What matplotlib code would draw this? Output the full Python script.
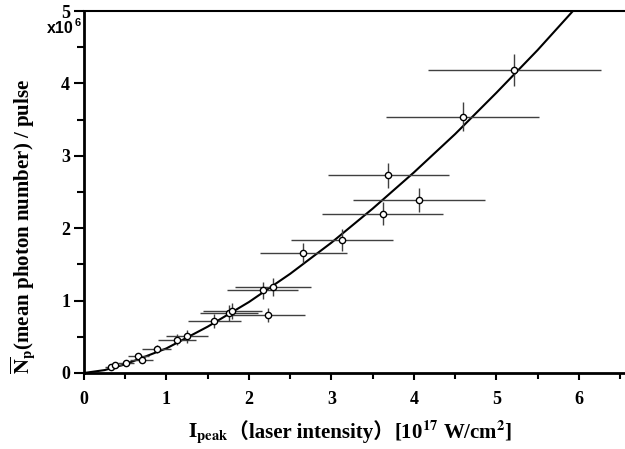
import matplotlib
matplotlib.use('Agg')
import matplotlib.pyplot as plt
from matplotlib.ticker import MultipleLocator

# measured points (y in units of 1e6 photons / pulse)
x_int = [0.33, 0.38, 0.51, 0.66, 0.70, 0.88, 1.13, 1.25, 1.58, 1.76, 1.80,
         2.17, 2.29, 2.23, 2.66, 3.13, 3.62, 3.69, 4.06, 4.59, 5.22]
y_np = [0.08, 0.11, 0.14, 0.23, 0.18, 0.33, 0.46, 0.51, 0.72, 0.83, 0.86,
        1.14, 1.19, 0.80, 1.66, 1.84, 2.20, 2.73, 2.39, 3.54, 4.19]
x_err = [0.07, 0.08, 0.10, 0.13, 0.14, 0.18, 0.23, 0.25, 0.32, 0.35, 0.36,
         0.43, 0.46, 0.45, 0.53, 0.62, 0.73, 0.73, 0.80, 0.93, 1.05]
y_err = [0.02, 0.02, 0.03, 0.05, 0.04, 0.06, 0.08, 0.09, 0.10, 0.11, 0.11,
         0.12, 0.12, 0.10, 0.14, 0.15, 0.16, 0.17, 0.17, 0.20, 0.22]

# fitted curve
fit_x = [0, 0.25, 0.5, 1.0, 1.5, 2.0, 2.5, 3.0, 3.5, 4.0, 4.5, 5.0, 5.5, 6.0]
fit_y = [0, 0.04, 0.12, 0.34, 0.64, 0.98, 1.37, 1.80, 2.27, 2.77, 3.30, 3.87, 4.46, 5.09]

plt.rcParams['font.family'] = ['Liberation Serif', 'Noto Sans CJK JP']
plt.rcParams['font.weight'] = 'bold'
plt.rcParams['mathtext.fontset'] = 'stix'

fig = plt.figure(figsize=(6.25, 4.49), dpi=100)
ax = fig.add_axes([0.1344, 0.1693, 0.8656, 0.8062])

ax.plot(fit_x, fit_y, color='black', lw=1.5, zorder=3)
ax.errorbar(x_int, y_np, xerr=x_err, yerr=y_err, fmt='o', ms=4.5,
            mfc='white', mec='black', mew=1, ecolor='0.25', elinewidth=1,
            capsize=0, zorder=4)

ax.set_xlim(0, 6.56)
ax.set_ylim(0, 5)
ax.xaxis.set_major_locator(MultipleLocator(1))
ax.xaxis.set_minor_locator(MultipleLocator(0.5))
ax.yaxis.set_major_locator(MultipleLocator(1))
ax.yaxis.set_minor_locator(MultipleLocator(0.5))
ax.tick_params(which='both', direction='out', width=1.5, labelsize=13,
               top=False, right=False)
ax.tick_params(axis='x', which='major', length=5, pad=8)
ax.tick_params(axis='x', which='minor', length=4)
ax.tick_params(axis='y', which='major', length=7, pad=3)
ax.tick_params(axis='y', which='minor', length=5)
for lab in ax.get_xticklabels() + ax.get_yticklabels():
    lab.set_fontweight('bold')

ax.spines['right'].set_visible(False)
ax.spines['left'].set_linewidth(2)
ax.spines['bottom'].set_linewidth(2)
ax.spines['top'].set_linewidth(1.5)

renderer = fig.canvas.get_renderer()

# axis multiplier "x10^6"
mult = fig.text(47 / 625, 1 - 33 / 449, 'x10', family='Liberation Sans',
                weight='bold', fontsize=11.5, ha='left', va='baseline')
w_mult = mult.get_window_extent(renderer).width
fig.text((47 + w_mult + 0.5) / 625, 1 - 26 / 449, '6', family='Liberation Sans',
         weight='bold', fontsize=8, ha='left', va='baseline')

fig.text(23 / 625, 1 - 226 / 449,
         r'$\overline{\mathbf{N}}_{\mathbf{p}}$(mean photon number) / pulse',
         rotation=90, ha='center', va='center', fontsize=15, weight='bold')

# x label in pieces, so the full-width brackets can use a CJK font
pieces = [
    (r'$\mathbf{I}_{\mathbf{peak}}$', {}),
    ('（laser intensity）', {'family': ['Liberation Serif', 'Noto Sans CJK JP']}),
    (r'[10$^{\mathbf{17}}$ W/cm$^{\mathbf{2}}$]', {}),
]
texts = []
for s, kw in pieces:
    texts.append(fig.text(0, 1 - 438 / 449, s, ha='left', va='baseline',
                          fontsize=15, weight='bold', **kw))
widths = [t.get_window_extent(renderer).width for t in texts]
xpos = 350 - sum(widths) / 2
for t, w in zip(texts, widths):
    t.set_x(xpos / 625)
    xpos += w

fig.savefig('out.png', dpi=100)
